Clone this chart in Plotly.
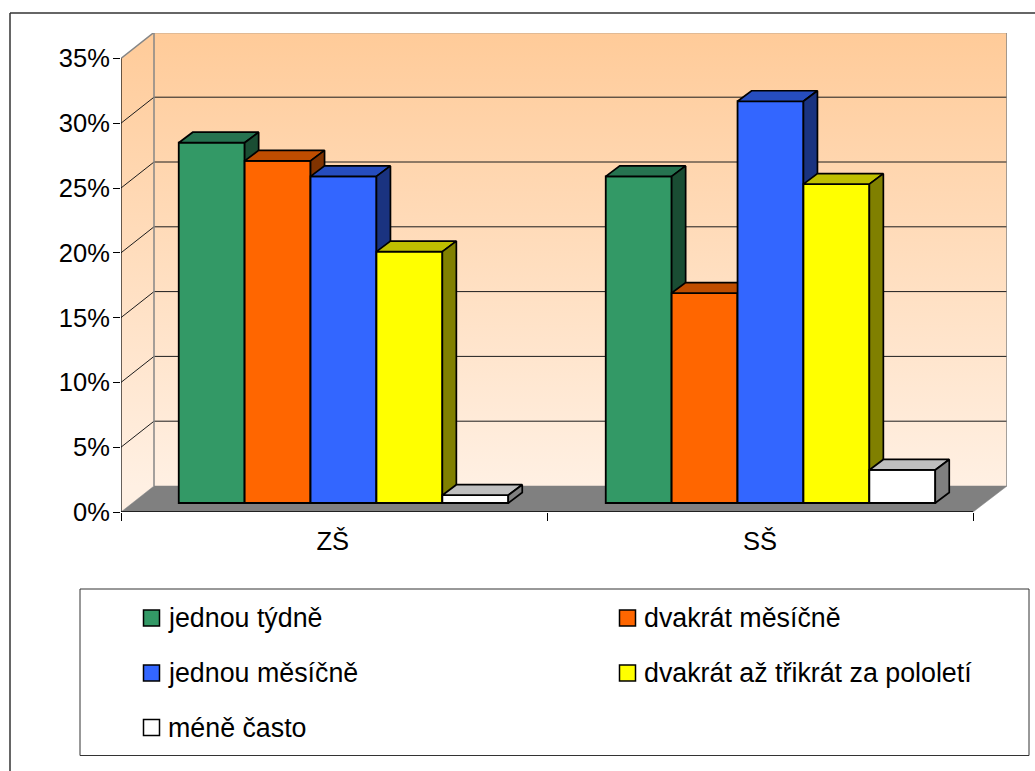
import plotly.graph_objects as go

# Survey shares by school level, in percent
categories = ["ZŠ", "SŠ"]
series_names = ["jednou týdně", "dvakrát měsíčně", "jednou měsíčně",
                "dvakrát až třikrát za pololetí", "méně často"]
series_zs = [27.8, 26.4, 25.2, 19.4, 0.6]
series_ss = [25.2, 16.2, 31.0, 24.6, 2.55]
y_ticks = [0, 5, 10, 15, 20, 25, 30, 35]

front_colors = ["#339966", "#FF6600", "#3366FF", "#FFFF00", "#FFFFFF"]
top_colors = ["#267350", "#BF4D00", "#264DBF", "#BFBF00", "#BFBFBF"]
side_colors = ["#1A4D33", "#803300", "#1A3380", "#808000", "#808080"]

W, H = 1035, 771
ML, MR, MT, MB = 121, 28, 33, 259
PLOT_W, PLOT_H = W - ML - MR, H - MT - MB
PX_PER_CAT = 426.0
PX_PER_PCT = 12.96
X_MAX = PLOT_W / PX_PER_CAT
Y_MAX = PLOT_H / PX_PER_PCT

# Oblique projection offsets, expressed in axis units
WALL_DX, WALL_DY = 33 / PX_PER_CAT, 26 / PX_PER_PCT
BAR_DX, BAR_DY = 14 / PX_PER_CAT, 10.5 / PX_PER_PCT
BASE_X, BASE_Y = 9.5 / PX_PER_CAT, 9.0 / PX_PER_PCT
BAR_W = 65.9 / PX_PER_CAT
GAP = (1 - 5 * BAR_W) / 2
CLUSTER_PITCH = 427 / PX_PER_CAT
FONT = "Liberation Sans, Arial, sans-serif"
WALL_SCALE = [[0, "#FFF0E3"], [1, "#FFCB99"]]
GRAY = "#868686"

fig = go.Figure()


def poly(xs, ys, fill, line_color, line_width, axes=("x", "y")):
    return go.Scatter(x=xs, y=ys, mode="lines", fill="toself", fillcolor=fill,
                      line=dict(color=line_color, width=line_width),
                      xaxis=axes[0], yaxis=axes[1], hoverinfo="skip", showlegend=False)


def line(xs, ys, color, width):
    return go.Scatter(x=xs, y=ys, mode="lines", line=dict(color=color, width=width),
                      hoverinfo="skip", showlegend=False)


def wall(xs, ys):
    return go.Scatter(x=xs, y=ys, mode="lines", fill="toself",
                      line=dict(color="rgba(0,0,0,0)", width=0),
                      fillgradient=dict(type="vertical", colorscale=WALL_SCALE,
                                        start=WALL_DY, stop=35 + WALL_DY),
                      hoverinfo="skip", showlegend=False)


# Room: side wall, back wall and floor
fig.add_trace(wall([0, WALL_DX, WALL_DX, 0, 0], [0, WALL_DY, 35 + WALL_DY, 35, 0]))
fig.add_trace(wall([WALL_DX, X_MAX, X_MAX, WALL_DX, WALL_DX],
                   [WALL_DY, WALL_DY, 35 + WALL_DY, 35 + WALL_DY, WALL_DY]))
fig.add_trace(poly([0, WALL_DX, X_MAX, 2, 0], [0, WALL_DY, WALL_DY, 0, 0], "#808080", "#808080", 0.5))

# Gridlines folding from the side wall onto the back wall
for v in y_ticks[1:-1]:
    fig.add_trace(line([0, WALL_DX, X_MAX], [v, v + WALL_DY, v + WALL_DY], "#1c1c1c", 1))

# Room edges and the axis lines
fig.add_trace(line([0, WALL_DX, X_MAX, X_MAX], [35, 35 + WALL_DY, 35 + WALL_DY, WALL_DY], GRAY, 1.5))
fig.add_trace(line([WALL_DX, WALL_DX], [WALL_DY, 35 + WALL_DY], GRAY, 1.5))
fig.add_trace(line([0, 0], [0, 35], "#000000", 1.2))
fig.add_trace(line([0, 2], [0, 0], "#000000", 1.5))

# One overlaid axis pair per series keeps the boxes painted left to right
layout_axes = {}
for i, name in enumerate(series_names):
    ax = str(i + 2)
    xa, ya = "x" + ax, "y" + ax
    layout_axes["xaxis" + ax] = dict(overlaying="x", range=[0, X_MAX], visible=False, fixedrange=True)
    layout_axes["yaxis" + ax] = dict(overlaying="y", range=[0, Y_MAX], visible=False, fixedrange=True)
    values = [series_zs[i], series_ss[i]]
    lefts = [c * CLUSTER_PITCH + GAP + BASE_X + i * BAR_W for c in range(len(categories))]
    for left, val in zip(lefts, values):
        right = left + BAR_W
        top = BASE_Y + val
        fig.add_trace(poly([left, left + BAR_DX, right + BAR_DX, right, left],
                           [top, top + BAR_DY, top + BAR_DY, top, top],
                           top_colors[i], "#000000", 1.7, (xa, ya)))
        fig.add_trace(poly([right, right + BAR_DX, right + BAR_DX, right, right],
                           [top, top + BAR_DY, BASE_Y + BAR_DY, BASE_Y, top],
                           side_colors[i], "#000000", 1.7, (xa, ya)))
    fig.add_trace(go.Bar(x=[l + BAR_W / 2 for l in lefts], y=values, base=BASE_Y, width=BAR_W,
                         name=name, marker=dict(color=front_colors[i], line=dict(color="#000000", width=1.8)),
                         xaxis=xa, yaxis=ya, hoverinfo="skip", showlegend=False))


def px(x):
    return (x - ML) / PLOT_W


def py(y):
    return (H - MB - y) / PLOT_H


shapes = [
    # Outer chart frame
    dict(type="line", xref="paper", yref="paper", x0=px(10), x1=px(10), y0=py(13), y1=py(771),
         line=dict(color="#333333", width=1.5)),
    dict(type="line", xref="paper", yref="paper", x0=px(10), x1=px(1035), y0=py(13), y1=py(13),
         line=dict(color="#333333", width=1.5)),
    # Legend box
    dict(type="rect", xref="paper", yref="paper", x0=px(80), x1=px(1029), y0=py(589), y1=py(755.5),
         line=dict(color="#333333", width=1), fillcolor="#FFFFFF"),
]

# Legend entries: two columns, filled row by row
annotations = []
col_x = [143.5, 619.5]
row_y = [618, 673, 727.5]
for i, name in enumerate(series_names):
    sx = col_x[i % 2]
    sy = row_y[i // 2]
    shapes.append(dict(type="rect", xref="paper", yref="paper", x0=px(sx), x1=px(sx + 16),
                       y0=py(sy - 8), y1=py(sy + 8), fillcolor=front_colors[i],
                       line=dict(color="#000000", width=1.5)))
    annotations.append(dict(xref="paper", yref="paper", x=px(sx + 22), y=py(sy), text=name,
                            showarrow=False, xanchor="left", yanchor="middle",
                            font=dict(family=FONT, size=26.8, color="#000000")))

fig.update_layout(
    width=W, height=H, autosize=False,
    margin=dict(l=ML, r=MR, t=MT, b=MB, autoexpand=False),
    paper_bgcolor="#FFFFFF", plot_bgcolor="rgba(0,0,0,0)",
    barmode="overlay", showlegend=False,
    font=dict(family=FONT, size=25.5, color="#000000"),
    xaxis=dict(range=[0, X_MAX], showgrid=False, zeroline=False, showline=False, fixedrange=True,
               tickmode="array", tickvals=[0.497, 1.5], ticktext=categories, ticks="",
               ticklabelstandoff=11,
               minor=dict(tickmode="array", tickvals=[0, 1, 2], ticks="outside", ticklen=8,
                          tickcolor="#000000", tickwidth=1, showgrid=False)),
    yaxis=dict(range=[0, Y_MAX], showgrid=False, zeroline=False, showline=False, fixedrange=True,
               tickmode="array", tickvals=y_ticks, ticktext=[f"{v}%" for v in y_ticks],
               ticks="outside", ticklen=7, tickcolor="#000000", tickwidth=1,
               ticklabelstandoff=-2),
    shapes=shapes, annotations=annotations,
    **layout_axes,
)

fig.write_html("out.html", config=dict(displayModeBar=False))
